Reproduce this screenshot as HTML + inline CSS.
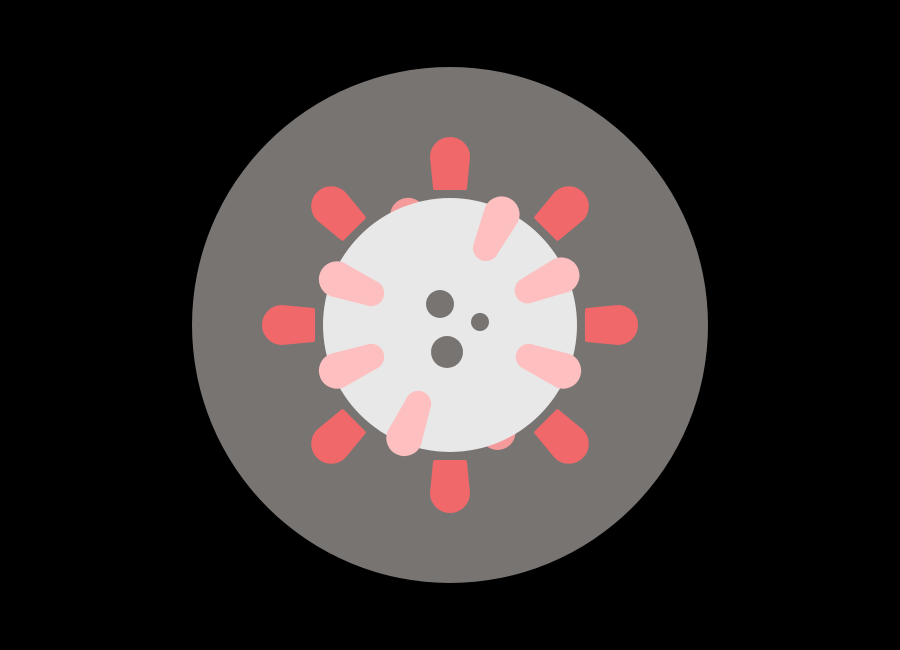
<!DOCTYPE html>
<html><head><meta charset="utf-8"><style>html,body{margin:0;padding:0;background:#000;width:900px;height:650px;overflow:hidden}</style></head>
<body>
<svg id="s" width="900" height="650" viewBox="0 0 900 650">
<rect width="900" height="650" fill="#000"/>
<circle cx="450" cy="325" r="258" fill="#787472"/>
<g id="red" transform="translate(450,325)"></g>
<g id="back" transform="translate(450,325)"></g>
<circle cx="450" cy="325" r="127" fill="#e8e8e8"/>
<g id="pink" transform="translate(450,325)"></g>
<circle cx="440" cy="304" r="14" fill="#787472"/>
<circle cx="480" cy="322" r="9" fill="#787472"/>
<circle cx="447" cy="352" r="16" fill="#787472"/>
</svg>
<script>
const redAngles=[0,45,90,135,180,225,270,315];
const pinkAngles=[25,66,112,202,248,292];
const backAngles=[339,156];
const NS='http://www.w3.org/2000/svg';
const redPath='M -15,-137 L -18,-168 A 18 18 0 0 1 18,-168 L 15,-137 Z';
const pinkPath='M -11,-85 L -16,-122 A 16 16 0 0 1 16,-122 L 11,-85 A 11 11 0 0 1 -11,-85 Z';
const backPath='M -11,-80 L -16,-117 A 16 16 0 0 1 16,-117 L 11,-80 A 11 11 0 0 1 -11,-80 Z';
function add(gid,angles,d,fill,name){
  const g=document.getElementById(gid);
  angles.forEach((a,i)=>{
    const p=document.createElementNS(NS,'path');
    p.setAttribute('d',d);
    p.setAttribute('fill',fill);
    p.setAttribute('stroke',fill);
    p.setAttribute('stroke-width','4');
    p.setAttribute('stroke-linejoin','round');
    p.setAttribute('transform','rotate('+a+')');
    
    
    g.appendChild(p);
  });
}
add('red',redAngles,redPath,'#f0686a','red-spike');
add('back',backAngles,backPath,'#f49a9a','back-spike');
add('pink',pinkAngles,pinkPath,'#fdbfc0','pink-spike');
</script>
</body></html>
